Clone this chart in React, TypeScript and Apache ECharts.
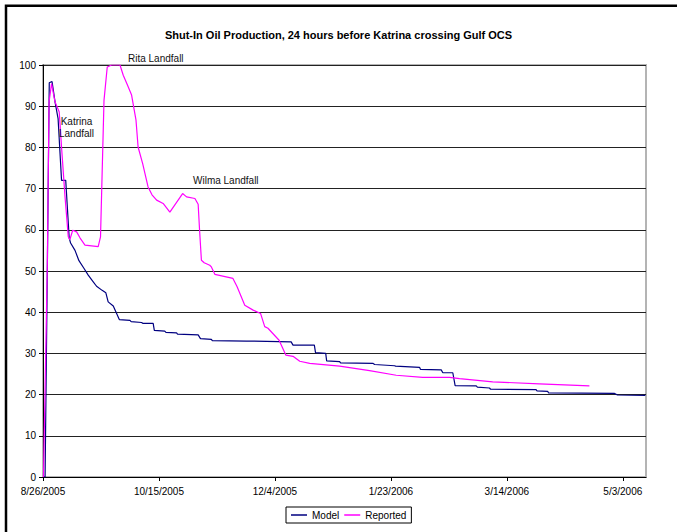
import React, { useEffect, useRef } from "react";
import * as echarts from "echarts";

// x values are days since 8/26/2005
const modelSeries: [number, number][] = [
  [0, 0], [0.9, 0], [1.9, 52], [2.7, 95.7], [3.9, 96], [5.2, 91], [6.5, 87], [8, 72], [9.8, 72],
  [11.3, 58], [11.9, 56.8], [13.8, 55], [15.5, 52.5], [17.7, 50.6], [19.5, 49], [21.5, 47.5],
  [23.1, 46.3], [25.5, 45.3], [27.1, 44.7], [28.1, 42.5], [30.3, 41.5], [32.9, 38.2], [37.5, 38],
  [38, 37.7], [42.5, 37.5], [43, 37.3], [47.5, 37.3], [48, 35.6], [52.5, 35.4], [53, 35.1],
  [57.6, 35], [58, 34.7], [66.9, 34.5], [67.9, 33.6], [72.6, 33.4], [73, 33.1], [87.7, 33.0],
  [107, 32.8], [107.8, 32], [117, 32], [117.5, 30.2], [121.9, 30], [122.3, 28.2], [127.9, 28],
  [128.3, 27.7], [142.2, 27.6], [143, 27.3], [151.6, 27], [152, 26.9], [162.4, 26.6], [162.8, 26.1],
  [171.7, 26], [172.4, 25.3], [176.7, 25.3], [177.7, 22.2], [186.8, 22.1], [187.3, 21.8],
  [192.5, 21.6], [193, 21.3], [212.6, 21.2], [213, 20.9], [217.6, 20.8], [218, 20.4],
  [246.3, 20.3], [247.7, 19.9], [259.7, 19.8],
];

const reportedSeries: [number, number][] = [
  [0.2, 0], [1.85, 51], [2.6, 91], [3.7, 95.5], [5.2, 91], [7, 88.6], [8, 80], [9.5, 68],
  [10.9, 58.3], [11.6, 57.6], [12.8, 59.9], [14.5, 59.5], [16, 58], [18.1, 56.3], [23.8, 55.9],
  [24.8, 58.3], [26.3, 91.4], [27.7, 99.5], [29.6, 100], [33.2, 100], [34.6, 97.5], [36.5, 95],
  [38.2, 92.7], [40.1, 86.6], [41, 80.1], [43, 76], [45.3, 70.4], [47, 68.5], [49, 67.2],
  [51.8, 66.4], [54.7, 64.3], [60.2, 68.8], [61.9, 68], [65.5, 67.6], [66.9, 66.2], [67.5, 60],
  [68.3, 52.6], [69.5, 52], [71.9, 51.4], [72.6, 51], [74.1, 49.2], [81.9, 48.2], [83.7, 46.2],
  [87, 41.7], [90.6, 40.5], [93.8, 39.7], [95.6, 36.5], [97, 36.1], [101.8, 33.2], [104.7, 29.6],
  [107.8, 29.3], [110.7, 28.1], [115, 27.6], [127.9, 26.9], [140.8, 25.8], [152.3, 24.7],
  [163.7, 24.2], [175.3, 24.2], [179.6, 23.9], [193.9, 23.1], [214, 22.6], [235.6, 22.1],
];

const tickDays = [0, 50, 100, 150, 200, 250];
const tickLabels = ["8/26/2005", "10/15/2005", "12/4/2005", "1/23/2006", "3/14/2006", "5/3/2006"];

const FONT = "'Liberation Sans', Arial, sans-serif";

export default function App() {
  const ref = useRef<HTMLDivElement>(null);
  useEffect(() => {
    document.body.style.margin = "0";
    const chart = echarts.init(ref.current!, null, { renderer: "svg" });
    chart.setOption({
      animation: false,
      backgroundColor: "#fff",
      title: {
        text: "Shut-In Oil Production, 24 hours before Katrina crossing Gulf OCS",
        left: "center",
        top: 24,
        textStyle: { fontSize: 11, fontWeight: "bold", color: "#000", fontFamily: FONT },
      },
      grid: {
        left: 43, right: 31, top: 65, bottom: 55,
        show: true, borderColor: "#b4b4b4", borderWidth: 2, backgroundColor: "#fff",
      },
      legend: {
        left: 286, top: 507,
        data: [
          { name: "Model", icon: "rect", itemStyle: { color: "#000080" } },
          { name: "Reported", icon: "rect", itemStyle: { color: "#ff00ff" } },
        ],
        borderColor: "#000", borderWidth: 1, borderRadius: 0,
        padding: [3, 5, 3, 5],
        itemWidth: 16, itemHeight: 1.5, itemGap: 5,
        textStyle: { fontSize: 10, color: "#000", fontFamily: FONT },
      },
      xAxis: {
        type: "value",
        min: 0, max: 260, interval: 50,
        axisLine: { lineStyle: { color: "#000", width: 1 } },
        axisTick: { show: true, length: 4, inside: false, customValues: tickDays, lineStyle: { color: "#000" } },
        axisLabel: {
          customValues: tickDays,
          fontSize: 10, color: "#000", fontFamily: FONT, margin: 9,
          formatter: (v: number) => {
            const i = tickDays.indexOf(v);
            return i >= 0 ? tickLabels[i] : "";
          },
        },
        splitLine: { show: false },
      },
      yAxis: {
        type: "value",
        min: 0, max: 100, interval: 10,
        axisLine: { show: true, lineStyle: { color: "#000", width: 1 } },
        axisTick: { show: true, length: 4, lineStyle: { color: "#000" } },
        axisLabel: { fontSize: 10, color: "#000", fontFamily: FONT, margin: 7 },
        splitLine: { show: true, lineStyle: { color: "#222", width: 1 } },
      },
      series: [
        {
          name: "Model", type: "line", data: modelSeries, symbol: "none", showSymbol: false,
          lineStyle: { color: "#000080", width: 1.2 }, itemStyle: { color: "#000080" },
        },
        {
          name: "Reported", type: "line", data: reportedSeries, symbol: "none", showSymbol: false,
          lineStyle: { color: "#ff00ff", width: 1.2 }, itemStyle: { color: "#ff00ff" },
        },
      ],
      graphic: [
        {
          type: "rect", silent: true, z: 100,
          shape: { x: 6, y: 5.7, width: 720, height: 600 },
          style: { fill: "none", stroke: "#000", lineWidth: 2.5 },
        },
        {
          type: "text", x: 128, y: 58, z: 100,
          style: { text: "Rita Landfall", fontSize: 10, fill: "#111", fontFamily: FONT, verticalAlign: "middle" },
        },
        {
          type: "text", x: 76.5, y: 127, z: 100,
          style: { text: "Katrina\nLandfall", fontSize: 10, lineHeight: 12, fill: "#111", fontFamily: FONT, align: "center", verticalAlign: "middle" },
        },
        {
          type: "text", x: 193, y: 180, z: 100,
          style: { text: "Wilma Landfall", fontSize: 10, fill: "#111", fontFamily: FONT, verticalAlign: "middle" },
        },
      ],
    });
    return () => chart.dispose();
  }, []);
  return <div ref={ref} style={{ width: 677, height: 532 }} />;
}
